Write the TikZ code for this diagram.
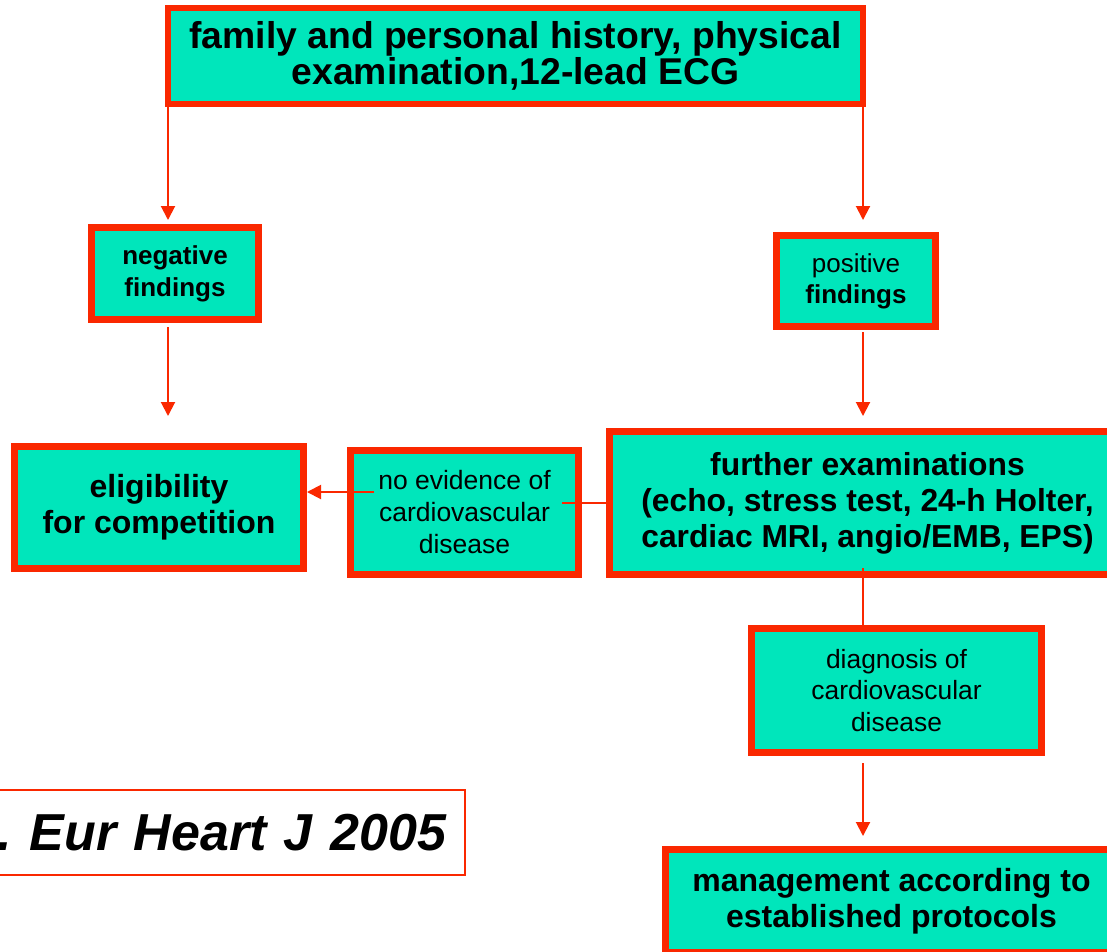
\documentclass[tikz,border=0pt]{standalone}
\usepackage{fontspec}
\setmainfont{Liberation Sans}
\usetikzlibrary{arrows.meta}
\definecolor{boxfill}{RGB}{0,230,187}
\definecolor{boxred}{RGB}{250,40,0}
\begin{document}
\begin{tikzpicture}[x=1pt,y=-1pt,
				box/.style={draw=boxred,fill=boxfill,line width=7pt,align=center,inner sep=0pt},
				arr/.style={draw=boxred,line width=2pt,-{Triangle[length=14pt,width=14pt]}},
				conn/.style={draw=boxred,line width=2pt},
				cite/.style={draw=boxred,fill=white,line width=2pt,align=right,inner xsep=19pt,inner ysep=0pt}]
\fill[white] (0,0) rectangle (1107,951);
\clip (0,0) rectangle (1107,951);
\coordinate (lcol) at (168,0);
\coordinate (rcol) at (863,0);
% boxes
\node[box,line width=6pt,minimum width=695,minimum height=96,
	font=\fontsize{37.3}{32}\selectfont\bfseries] (hist) at (515.5,56)
	{family and personal history, physical\\examination,12-lead ECG};
\node[box,minimum width=167,minimum height=92,
	font=\fontsize{26}{32}\selectfont\bfseries] (neg) at (175,273.5)
	{negative\\findings};
\node[box,minimum width=159,minimum height=91,
	font=\fontsize{26}{31}\selectfont] (pos) at (856,281)
	{positive\\\textbf{findings}};
\node[box,minimum width=289,minimum height=122,
	font=\fontsize{32}{36}\selectfont\bfseries] (elig) at (159,507.5)
	{eligibility\\for competition};
\node[box,minimum width=228,minimum height=124,
	font=\fontsize{26.5}{32}\selectfont] (noev) at (464.5,512.5)
	{no evidence of\\cardiovascular\\disease};
\node[box,minimum width=516,minimum height=143,
	font=\fontsize{31.8}{36}\selectfont\bfseries] (further) at (867.5,503)
	{further examinations\\(echo, stress test, 24-h Holter,\\cardiac MRI, angio/EMB, EPS)};
\node[box,minimum width=290,minimum height=124,
	font=\fontsize{26.4}{31.5}\selectfont] (diag) at (896.5,690.5)
	{diagnosis of\\cardiovascular\\disease};
\node[box,minimum width=452,minimum height=103,
	font=\fontsize{32}{36}\selectfont\bfseries] (mgmt) at (891.5,901)
	{management according to\\established protocols};
\node[cite,anchor=east,text width=470,minimum height=85,
	font=\fontsize{52}{60}\selectfont\bfseries\itshape] (ref) at (466,832.5)
	{.\ Eur Heart J 2005};
% connectors
\draw[arr] (hist.south -| lcol) -- ([yshift=4]neg.north -| lcol);
\draw[arr] (hist.south -| rcol) -- ([yshift=12]pos.north -| rcol);
\draw[arr] ([yshift=-4]neg.south -| lcol) -- ([yshift=27]elig.north -| lcol);
\draw[arr] ([yshift=-2]pos.south -| rcol) -- ([yshift=12]further.north -| rcol);
\draw[conn] (further.west) -- ([xshift=-20]further.west -| noev.east);
\draw[arr] ([xshift=27,yshift=20.5]noev.west) coordinate (n1) -- (n1 -| elig.east);
\draw[conn] ([yshift=10]further.south -| rcol) -- (diag.north -| rcol);
\draw[arr] ([yshift=-7]diag.south -| rcol) -- ([yshift=10]mgmt.north -| rcol);
\end{tikzpicture}
\end{document}
